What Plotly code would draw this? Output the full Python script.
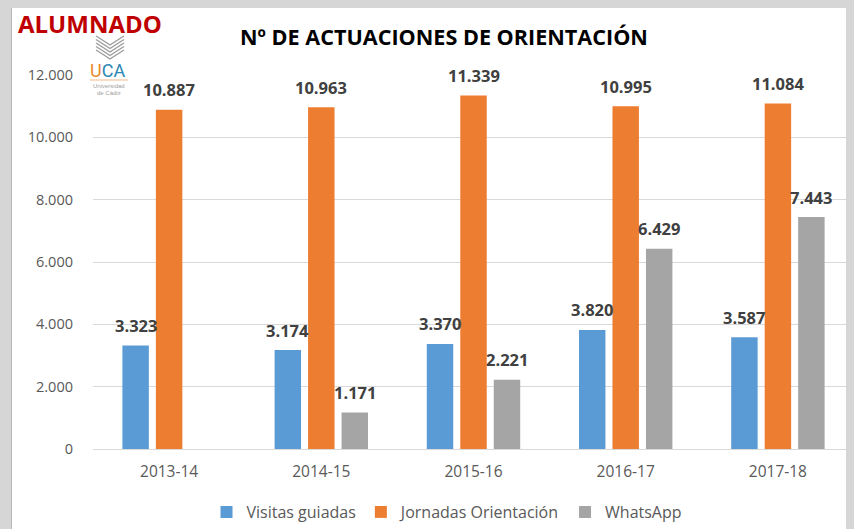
import plotly.graph_objects as go

categories = ["2013-14", "2014-15", "2015-16", "2016-17", "2017-18"]
visitas = [3323, 3174, 3370, 3820, 3587]
jornadas = [10887, 10963, 11339, 10995, 11084]
whatsapp = [None, 1171, 2221, 6429, 7443]
series_names = ["Visitas guiadas", "Jornadas Orientación", "WhatsApp"]
colors = ["#5b9bd5", "#ed7d31", "#a5a5a5"]

W, H = 854, 529
OFF = 8  # page offset of the figure inside the browser window
L, R, T, B = 93 - OFF, OFF, 75 - OFF, 529 - (449 - OFF)
PW, PH = W - L - R, H - T - B

def px(x):
    # reference window pixel -> paper x
    return (x - OFF - L) / PW

def py(y):
    return (H - B - (y - OFF)) / PH

FONT = "Open Sans"
fig = go.Figure()
for name, vals, col in zip(series_names, [visitas, jornadas, whatsapp], colors):
    fig.add_trace(go.Bar(x=categories, y=vals, name=name, marker=dict(color=col, line=dict(width=0))))

def fmt(v):
    return f"{v:,}".replace(",", ".")

slot = 0.22
annotations = []
for si, vals in enumerate([visitas, jornadas, whatsapp]):
    for ci, v in enumerate(vals):
        if v is None:
            continue
        annotations.append(dict(x=ci + (si - 1) * slot, y=v, xref="x", yref="y", text=fmt(v),
                                showarrow=False, xanchor="center", yanchor="middle", yshift=20,
                                font=dict(family=FONT, size=16.5, color="#404040", weight="bold")))

def paper_text(x, y, text, font):
    return dict(x=px(x), y=py(y), xref="paper", yref="paper", text=text, showarrow=False,
                xanchor="center", yanchor="middle", font=font)

annotations.append(paper_text(90, 23, "ALUMNADO", dict(family=FONT, size=24, color="#c00000", weight="bold")))
annotations.append(paper_text(107, 71, '<span style="color:#e8892c">U</span><span style="color:#2a86b3">CA</span>',
                              dict(family="Roboto", size=18)))
annotations.append(paper_text(109, 86, "Universidad", dict(family="Liberation Sans", size=6, color="#a0a0a0")))
annotations.append(paper_text(109, 93, "de Cádiz", dict(family="Liberation Sans", size=6, color="#a0a0a0")))

shapes = [
    dict(type="rect", xref="paper", yref="paper", x0=px(12), x1=px(900), y0=py(700), y1=py(7),
         fillcolor="white", line=dict(width=0), layer="below"),
    dict(type="line", xref="paper", yref="paper", x0=px(11.5), x1=px(11.5), y0=py(700), y1=py(7),
         line=dict(color="#b8b8b8", width=1), layer="below"),
    dict(type="rect", xref="paper", yref="paper", x0=px(86), x1=px(130), y0=py(100), y1=py(33),
         fillcolor="white", line=dict(width=0), layer="above"),
    dict(type="line", xref="paper", yref="paper", x0=px(90), x1=px(128), y0=py(80), y1=py(80),
         line=dict(color="#f2b98a", width=1), layer="above"),
]
# simple emblem: stacked chevrons (wheat-like)
for k in range(5):
    y0 = 36 + k * 3.5
    shapes.append(dict(type="path", xref="paper", yref="paper",
                       path=f"M {px(96)},{py(y0)} Q {px(104)},{py(y0 + 5)} {px(110)},{py(y0 + 9)} "
                            f"Q {px(116)},{py(y0 + 5)} {px(124)},{py(y0)}",
                       line=dict(color="#9a9a9a", width=1.3), layer="above"))

fig.update_layout(
    width=W, height=H,
    margin=dict(l=L, r=R, t=T, b=B, pad=0),
    paper_bgcolor="#d6d6d6",
    plot_bgcolor="rgba(0,0,0,0)",
    separators=",.",
    barmode="group", bargap=0.34, bargroupgap=0.21,
    title=dict(text="<b>Nº DE ACTUACIONES DE ORIENTACIÓN</b>", x=(444 - OFF) / W, y=1 - (37 - OFF) / H,
               xanchor="center", yanchor="middle",
               font=dict(family=FONT, size=21.6, color="#000000")),
    font=dict(family=FONT, color="#595959"),
    xaxis=dict(range=[-0.5, 4.5], showgrid=False, showline=True, linecolor="#d9d9d9", linewidth=1,
               tickfont=dict(size=15.5, color="#595959"), ticks="", ticklabelstandoff=8),
    yaxis=dict(range=[0, 12000], dtick=2000, tickformat=",d", showgrid=True, gridcolor="#d9d9d9",
               gridwidth=1, zeroline=False, showline=False, ticks="",
               tickfont=dict(size=14.5, color="#595959"), ticklabelstandoff=19),
    legend=dict(orientation="h", x=px(447), xanchor="center", y=py(512), yanchor="middle",
                font=dict(size=16, color="#595959"), bgcolor="rgba(0,0,0,0)"),
    annotations=annotations,
    shapes=shapes,
    showlegend=True,
)

fig.write_html("out.html", post_script="document.body.style.background='#d6d6d6';")
